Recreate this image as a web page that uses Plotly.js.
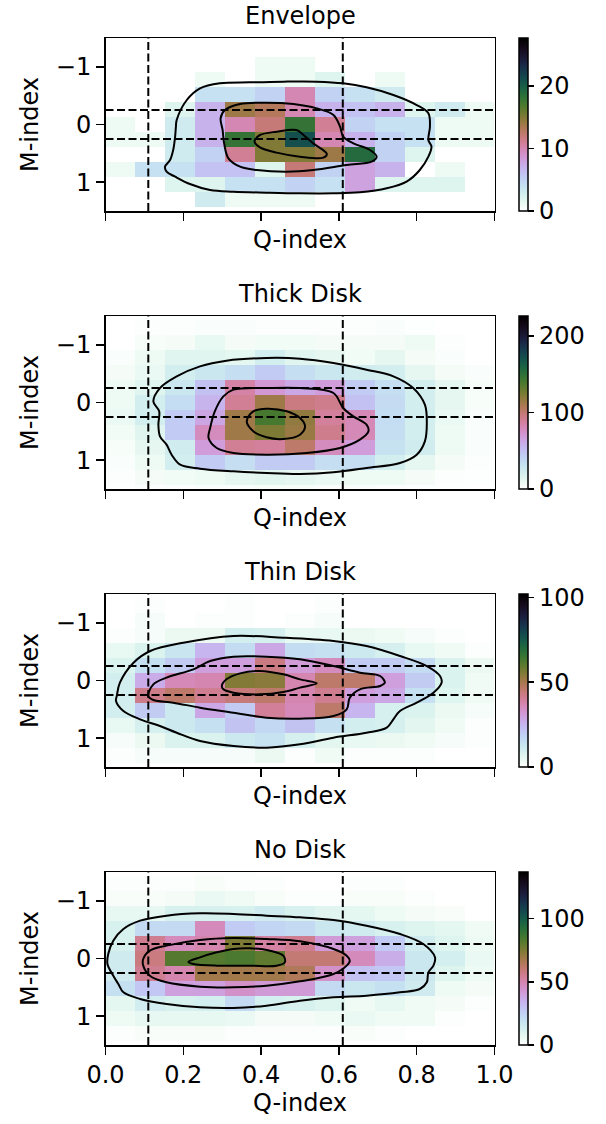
<!DOCTYPE html>
<html>
<head>
<meta charset="utf-8">
<script src="https://cdn.plot.ly/plotly-3.0.1.min.js"></script>
<style>
  html, body { margin: 0; padding: 0; background: #fff; }
  #chart { width: 606px; height: 1124px; }
</style>
</head>
<body>
<div id="chart"></div>
<script>
// ---- Data ---------------------------------------------------------------
const panelTitles = ["Envelope", "Thick Disk", "Thin Disk", "No Disk"];
const colorMax = [27.7, 226, 102, 137];
const colorTicks = [[0, 10, 20], [0, 100, 200], [0, 50, 100], [0, 50, 100]];

// bin centres: 13 Q-index bins on [0, 1], 13 M-index bins of width 0.26
const qCenters = [0.0385, 0.1154, 0.1923, 0.2692, 0.3462, 0.4231, 0.5, 0.5769, 0.6538, 0.7308, 0.8077, 0.8846, 0.9615];
const mCenters = [-1.56, -1.30, -1.04, -0.78, -0.52, -0.26, 0, 0.26, 0.52, 0.78, 1.04, 1.30, 1.56];

// counts per bin, one row per M-index bin (top to bottom)
const envelopeCounts = [
  [0,0,0,0,0,0,0,0,0,0,0,0,0],
  [0,0,0,0,0,0,0,0,0,0,0,0,0],
  [0,0,0,0,0,1,1,0,0,0,0,0,0],
  [0,0,0,1,0,1,1,2,0,1,0,0,0],
  [0,0,0,4,4,5,10,5,4,3,0,0,0],
  [0,0,2,7,14,13,10,7,6,7,2,3,1],
  [1,0,3,7,10,12,18,11,5,4,4,1,1],
  [1,1,3,7,18,15,21,10,7,5,4,1,1],
  [0,0,3,5,11,15,15,14,19,5,2,0,0],
  [1,4,4,6,6,2,12,5,8,7,0,1,0],
  [0,0,2,2,4,4,5,4,8,2,2,2,0],
  [0,0,0,3,1,1,1,0,0,0,0,0,0],
  [0,0,0,0,0,0,0,0,0,0,0,0,0]
];
const thickDiskCounts = [
  [0,1,1,1,1,1,1,1,1,1,0,0,0],
  [0,2,2,3,3,2,2,2,2,3,1,0,0],
  [0,4,5,11,5,6,6,5,5,5,8,2,0],
  [3,8,15,15,13,22,15,12,6,12,5,3,0],
  [5,10,22,28,34,45,34,28,24,22,12,5,3],
  [8,15,28,50,85,70,62,68,45,34,22,12,4],
  [8,22,35,56,90,113,95,92,50,36,22,12,4],
  [10,22,45,63,113,140,118,88,80,35,22,10,3],
  [6,15,45,78,113,124,115,92,80,34,22,8,3],
  [4,12,24,68,90,88,102,78,68,32,24,8,3],
  [3,8,22,45,34,45,45,34,34,22,12,5,2],
  [2,5,6,8,12,14,12,10,8,8,5,2,1],
  [1,2,2,3,3,4,4,3,3,2,1,1,0]
];
const thinDiskCounts = [
  [0,0,0,0,1,0,0,1,0,0,0,0,0],
  [0,1,0,0,1,0,0,1,0,0,0,0,0],
  [0,2,0,1,1,0,1,2,0,0,0,0,0],
  [1,2,4,4,10,9,5,5,4,3,2,1,0],
  [5,8,13,25,16,28,16,15,12,9,5,3,1],
  [8,15,20,30,30,43,31,35,20,20,16,8,4],
  [10,27,36,37,55,54,37,46,46,30,20,8,3],
  [10,42,46,41,44,46,37,41,30,28,15,7,3],
  [10,20,12,28,20,40,36,46,25,9,8,4,2],
  [5,9,12,15,22,17,22,15,10,9,6,3,1],
  [2,4,8,8,12,14,9,6,5,4,3,2,1],
  [1,2,2,2,2,4,1,3,1,1,1,0,0],
  [0,0,0,0,0,0,0,0,0,0,0,0,0]
];
const noDiskCounts = [
  [0,0,0,1,1,0,0,0,0,0,0,0,0],
  [1,1,1,2,1,1,0,0,1,1,0,0,0],
  [2,2,3,6,4,2,1,1,2,2,1,0,0],
  [7,7,12,12,12,15,12,9,8,5,3,2,0],
  [12,22,22,48,27,24,22,17,15,12,10,8,4],
  [12,55,48,50,75,52,55,42,40,27,14,10,5],
  [15,58,82,82,84,80,60,60,48,36,17,13,6],
  [15,55,50,68,68,68,65,45,30,28,17,10,5],
  [20,28,40,40,45,42,42,22,17,20,15,5,3],
  [8,14,12,13,22,13,12,10,4,7,4,3,1],
  [5,7,7,7,6,3,3,4,6,4,4,1,0],
  [1,2,2,2,1,1,1,1,2,1,0,0,0],
  [0,0,0,0,0,0,0,0,0,0,0,0,0]
];

// density contour paths, [Q-index, M-index] vertices (outer, middle, inner)
const envelopeContours = [
  [[0.183,-0.078],[0.209,-0.425],[0.243,-0.627],[0.294,-0.714],[0.371,-0.731],[0.457,-0.743],[0.543,-0.743],[0.611,-0.714],[0.671,-0.645],[0.740,-0.512],[0.800,-0.338],[0.830,-0.194],[0.834,0.038],[0.830,0.269],[0.838,0.384],[0.830,0.558],[0.808,0.789],[0.774,0.991],[0.723,1.107],[0.654,1.176],[0.586,1.194],[0.500,1.194],[0.414,1.182],[0.329,1.165],[0.269,1.136],[0.217,1.032],[0.179,0.905],[0.157,0.818],[0.153,0.731],[0.166,0.616],[0.174,0.442],[0.179,0.211],[0.181,0.038]],
  [[0.307,-0.251],[0.346,-0.355],[0.414,-0.379],[0.483,-0.355],[0.543,-0.280],[0.586,-0.165],[0.603,0.038],[0.611,0.211],[0.637,0.327],[0.680,0.442],[0.697,0.558],[0.684,0.645],[0.620,0.702],[0.534,0.789],[0.466,0.818],[0.389,0.789],[0.346,0.731],[0.316,0.587],[0.305,0.327],[0.301,0.095],[0.296,-0.107]],
  [[0.384,0.269],[0.397,0.182],[0.440,0.124],[0.491,0.095],[0.509,0.182],[0.534,0.327],[0.569,0.512],[0.560,0.575],[0.500,0.558],[0.440,0.488],[0.397,0.396],[0.384,0.315]]
];
const thickDiskContours = [
  [[0.123,-0.020],[0.140,-0.251],[0.183,-0.454],[0.243,-0.627],[0.311,-0.725],[0.414,-0.772],[0.500,-0.760],[0.586,-0.685],[0.671,-0.569],[0.740,-0.454],[0.791,-0.251],[0.821,0.038],[0.826,0.327],[0.821,0.673],[0.800,0.905],[0.757,1.049],[0.671,1.136],[0.586,1.211],[0.500,1.240],[0.414,1.223],[0.329,1.194],[0.243,1.147],[0.192,1.078],[0.170,0.905],[0.157,0.731],[0.140,0.587],[0.136,0.384],[0.138,0.153]],
  [[0.269,0.442],[0.281,0.153],[0.303,-0.107],[0.329,-0.223],[0.414,-0.251],[0.500,-0.251],[0.586,-0.165],[0.611,0.095],[0.637,0.240],[0.671,0.384],[0.676,0.500],[0.654,0.645],[0.603,0.789],[0.517,0.876],[0.414,0.905],[0.329,0.876],[0.286,0.789],[0.265,0.616]],
  [[0.363,0.327],[0.380,0.153],[0.414,0.107],[0.466,0.153],[0.500,0.269],[0.513,0.413],[0.500,0.558],[0.457,0.633],[0.414,0.604],[0.380,0.500]]
];
const thinDiskContours = [
  [[0.029,0.269],[0.037,0.038],[0.072,-0.309],[0.115,-0.512],[0.200,-0.656],[0.329,-0.772],[0.457,-0.743],[0.586,-0.685],[0.671,-0.598],[0.757,-0.425],[0.826,-0.251],[0.860,-0.078],[0.864,0.038],[0.843,0.211],[0.800,0.384],[0.757,0.529],[0.740,0.673],[0.723,0.818],[0.671,0.905],[0.586,0.991],[0.500,1.107],[0.414,1.165],[0.329,1.136],[0.243,1.049],[0.183,0.905],[0.140,0.789],[0.089,0.673],[0.046,0.529],[0.027,0.355]],
  [[0.110,0.269],[0.123,0.067],[0.157,-0.049],[0.226,-0.194],[0.269,-0.338],[0.329,-0.413],[0.414,-0.413],[0.500,-0.367],[0.586,-0.251],[0.654,-0.136],[0.706,-0.078],[0.718,0.038],[0.706,0.095],[0.654,0.153],[0.628,0.298],[0.620,0.500],[0.586,0.616],[0.500,0.662],[0.414,0.645],[0.329,0.558],[0.243,0.471],[0.174,0.384],[0.123,0.338]],
  [[0.299,0.095],[0.311,-0.020],[0.346,-0.124],[0.397,-0.165],[0.457,-0.107],[0.500,-0.020],[0.543,0.049],[0.500,0.124],[0.457,0.199],[0.397,0.240],[0.329,0.211],[0.303,0.153]]
];
const noDiskContours = [
  [[0.007,-0.078],[0.020,-0.309],[0.046,-0.512],[0.089,-0.656],[0.157,-0.743],[0.243,-0.783],[0.329,-0.772],[0.414,-0.743],[0.500,-0.714],[0.586,-0.668],[0.671,-0.569],[0.757,-0.425],[0.817,-0.251],[0.847,-0.020],[0.843,0.124],[0.830,0.240],[0.826,0.413],[0.808,0.529],[0.757,0.587],[0.671,0.645],[0.586,0.673],[0.500,0.731],[0.414,0.818],[0.329,0.858],[0.243,0.847],[0.157,0.789],[0.089,0.702],[0.046,0.587],[0.033,0.442],[0.020,0.298],[0.005,0.095]],
  [[0.097,0.009],[0.114,-0.136],[0.157,-0.223],[0.243,-0.321],[0.329,-0.355],[0.414,-0.338],[0.500,-0.298],[0.586,-0.165],[0.620,-0.049],[0.628,0.038],[0.620,0.124],[0.586,0.269],[0.500,0.396],[0.414,0.471],[0.329,0.500],[0.243,0.488],[0.157,0.413],[0.114,0.298],[0.097,0.124]],
  [[0.213,0.061],[0.243,-0.020],[0.286,-0.107],[0.329,-0.165],[0.371,-0.176],[0.423,-0.136],[0.457,-0.049],[0.461,0.067],[0.440,0.124],[0.371,0.124],[0.286,0.124],[0.226,0.095]]
];

// reference cuts
const qCuts = [0.11, 0.61];
const mCuts = [-0.25, 0.25];

const qTicks = [0, 0.2, 0.4, 0.6, 0.8, 1.0];
const qTickText = ["0.0", "0.2", "0.4", "0.6", "0.8", "1.0"];
const mTicks = [-1, 0, 1];
const mTickText = ["\u22121", "0", "1"];

// ---- Reversed cubehelix colour scale ----------------------------------------
function cubehelixReversed(n) {
  const stops = [];
  for (let i = 0; i <= n; i++) {
    const f = i / n;
    const x = 1 - f;
    const a = 0.5 * x * (1 - x);
    const phi = 2 * Math.PI * (0.5 / 3 - 1.5 * x);
    const c = Math.cos(phi), s = Math.sin(phi);
    const clip = v => Math.round(255 * Math.min(1, Math.max(0, v)));
    const r = clip(x + a * (-0.14861 * c + 1.78277 * s));
    const g = clip(x + a * (-0.29227 * c - 0.90649 * s));
    const b = clip(x + a * (1.97294 * c));
    stops.push([f, `rgb(${r},${g},${b})`]);
  }
  return stops;
}
const colorscale = cubehelixReversed(64);

// ---- Layout geometry --------------------------------------------------------
const W = 606, H = 1124;
const plotLeft = 105.5, plotRight = 494.5;
const panelTop = [38, 316, 594, 872];
const panelHeight = 173;
const font = "DejaVu Sans";
const fontSize = 24;

const allCounts = [envelopeCounts, thickDiskCounts, thinDiskCounts, noDiskCounts];
const allContours = [envelopeContours, thickDiskContours, thinDiskContours, noDiskContours];

const traces = [];
const shapes = [];
const annotations = [];
const layout = {
  width: W, height: H,
  margin: { l: 0, r: 0, t: 0, b: 0 },
  paper_bgcolor: "#fff", plot_bgcolor: "#fff",
  font: { family: font, size: fontSize, color: "#000" },
  showlegend: false,
  shapes, annotations
};

for (let p = 0; p < 4; p++) {
  const sfx = p === 0 ? "" : String(p + 1);
  const xa = "x" + sfx, ya = "y" + sfx;
  const top = panelTop[p], bottom = top + panelHeight;
  const yDomain = [1 - bottom / H, 1 - top / H];
  const last = p === 3;

  layout["xaxis" + sfx] = {
    domain: [plotLeft / W, plotRight / W], anchor: ya,
    range: [0, 1], tickvals: qTicks, ticktext: qTickText,
    showticklabels: last,
    ticks: "outside", ticklen: 8, tickwidth: 1.5, tickcolor: "#000",
    showline: true, linecolor: "#000", linewidth: 1.5, mirror: true,
    showgrid: false, zeroline: false, automargin: false,
    tickfont: { family: font, size: fontSize, color: "#000" },
    title: { text: "Q-index", font: { family: font, size: fontSize, color: "#000" }, standoff: last ? 6 : 11 }
  };
  layout["yaxis" + sfx] = {
    domain: yDomain, anchor: xa,
    range: [1.5, -1.5], tickvals: mTicks, ticktext: mTickText,
    ticks: "outside", ticklen: 8, tickwidth: 1.5, tickcolor: "#000",
    showline: true, linecolor: "#000", linewidth: 1.5, mirror: true,
    showgrid: false, zeroline: false, automargin: false,
    tickfont: { family: font, size: fontSize, color: "#000" },
    title: { text: "M-index", font: { family: font, size: fontSize, color: "#000" }, standoff: 10 }
  };

  traces.push({
    type: "heatmap", x: qCenters, y: mCenters, z: allCounts[p],
    xaxis: xa, yaxis: ya,
    colorscale, zmin: 0, zmax: colorMax[p], zsmooth: false,
    hoverinfo: "skip",
    colorbar: {
      x: 518.5 / W, xanchor: "left", xpad: 0,
      y: 1 - (top + panelHeight / 2) / H, yanchor: "middle", ypad: 0,
      len: panelHeight / H, lenmode: "fraction",
      thickness: 9, outlinewidth: 1.5, outlinecolor: "#000",
      tickvals: colorTicks[p], ticks: "outside", ticklen: 6, tickwidth: 1.5, tickcolor: "#000",
      tickfont: { family: font, size: fontSize, color: "#000" }
    }
  });

  allContours[p].forEach(path => {
    const closed = path.concat([path[0]]);
    traces.push({
      type: "scatter", mode: "lines",
      x: closed.map(v => v[0]), y: closed.map(v => v[1]),
      xaxis: xa, yaxis: ya,
      line: { color: "#000", width: 2, shape: "spline", smoothing: 1 },
      hoverinfo: "skip", showlegend: false
    });
  });

  const dash = { color: "#000", width: 2, dash: "8px,3.5px" };
  qCuts.forEach(q => shapes.push({ type: "line", xref: xa, yref: ya + " domain", x0: q, x1: q, y0: 0, y1: 1, line: dash }));
  mCuts.forEach(m => shapes.push({ type: "line", xref: xa + " domain", yref: ya, x0: 0, x1: 1, y0: m, y1: m, line: dash }));

  annotations.push({
    text: panelTitles[p], xref: "paper", yref: "paper",
    x: (plotLeft + plotRight) / 2 / W, y: 1 - (top - 22) / H,
    xanchor: "center", yanchor: "middle", showarrow: false,
    font: { family: font, size: fontSize, color: "#000" }
  });
}

Plotly.newPlot("chart", traces, layout, { staticPlot: true, displayModeBar: false });
</script>
</body>
</html>
